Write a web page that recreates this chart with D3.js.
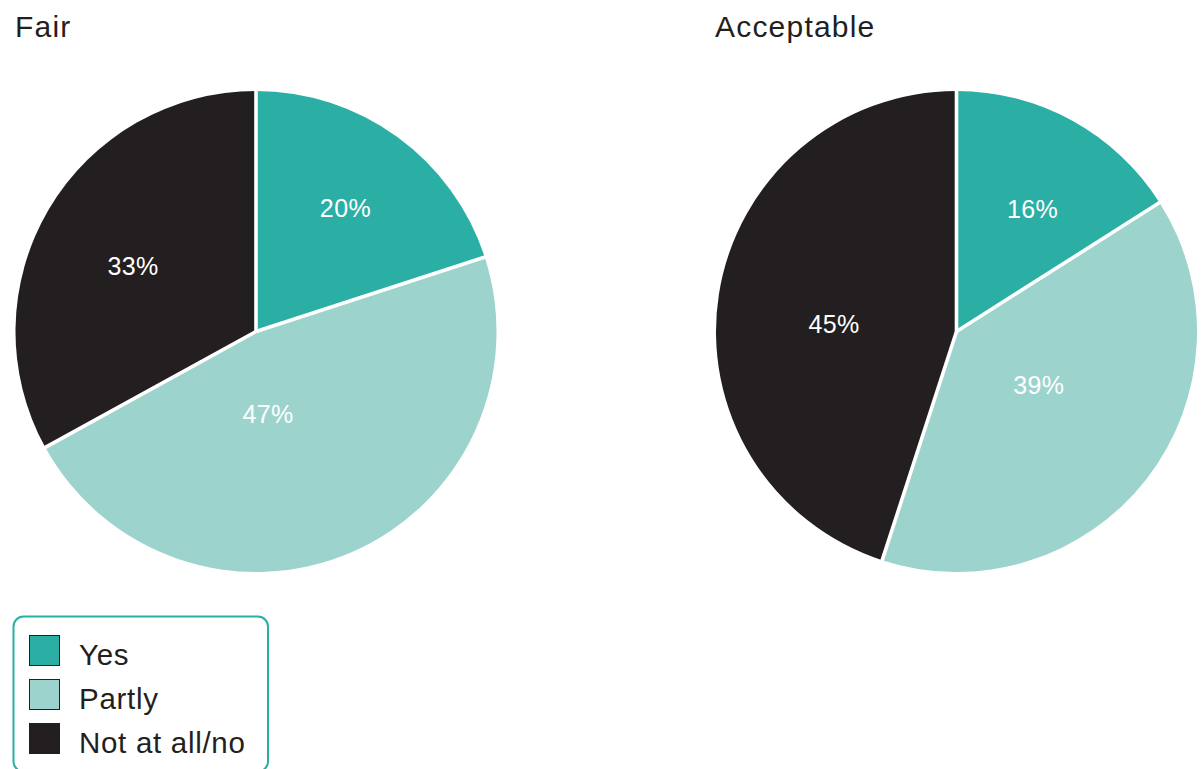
<!DOCTYPE html>
<html>
<head>
<meta charset="utf-8">
<script src="https://cdn.jsdelivr.net/npm/d3@7"></script>
<style>
  html, body { margin: 0; padding: 0; background: #ffffff; }
  svg { display: block; }
  text { font-family: "Liberation Sans", Arial, Helvetica, sans-serif; }
</style>
</head>
<body>
<svg id="chart" width="1204" height="769"></svg>
<script>
// Response categories and their shares (%) for each question
const categories = ["Yes", "Partly", "Not at all/no"];
const chartTitles = ["Fair", "Acceptable"];
const fairValues = [20, 47, 33];
const acceptableValues = [16, 39, 45];

const colors = ["#2bafa5", "#9dd3cd", "#231f20"];
const textDark = "#231f20";

// Label placement per slice: shift (degrees) from the slice's mid-angle and radius fraction
const labelPlacement = [
  [{ shift: 0, r: 0.633 }, { shift: 15, r: 0.345 }, { shift: -2.4, r: 0.58 }],
  [{ shift: 3, r: 0.6 }, { shift: -5, r: 0.407 }, { shift: -5.3, r: 0.51 }]
];

const svg = d3.select("#chart");
const W = 1204, H = 769;
svg.append("rect").attr("width", W).attr("height", H).attr("fill", "#fff");

const radius = 240.5;
const centers = [{ x: 256, y: 331.5 }, { x: 956.5, y: 331.5 }];
const titleX = [15, 715];
const datasets = [fairValues, acceptableValues];

const color = d3.scaleOrdinal().domain(categories).range(colors);

const pie = d3.pie().sort(null).value(d => d.value).startAngle(0).endAngle(2 * Math.PI);
const arc = d3.arc().innerRadius(0).outerRadius(radius);

datasets.forEach((vals, ci) => {
  const data = categories.map((c, i) => ({ category: c, value: vals[i] }));
  const g = svg.append("g").attr("transform", `translate(${centers[ci].x},${centers[ci].y})`);

  const arcs = pie(data);

  g.selectAll("path.slice")
    .data(arcs)
    .join("path")
    .attr("class", "slice")
    .attr("d", arc)
    .attr("fill", d => color(d.data.category));

  // white separators between slices (radial edges only)
  g.selectAll("line.sep")
    .data(arcs)
    .join("line")
    .attr("class", "sep")
    .attr("x1", 0).attr("y1", 0)
    .attr("x2", d => Math.sin(d.startAngle) * (radius + 2))
    .attr("y2", d => -Math.cos(d.startAngle) * (radius + 2))
    .attr("stroke", "#fff")
    .attr("stroke-width", 3.6)
    .attr("stroke-linecap", "butt");

  // percentage labels
  g.selectAll("text.pct")
    .data(arcs)
    .join("text")
    .attr("class", "pct")
    .attr("transform", (d, i) => {
      const p = labelPlacement[ci][i];
      const a = (d.startAngle + d.endAngle) / 2 + p.shift * Math.PI / 180;
      const r = radius * p.r;
      return `translate(${Math.sin(a) * r},${-Math.cos(a) * r})`;
    })
    .attr("text-anchor", "middle")
    .attr("dy", "0.36em")
    .attr("fill", "#fff")
    .attr("font-size", 25)
    .attr("letter-spacing", 0.4)
    .text(d => d.data.value + "%");

  svg.append("text")
    .attr("x", titleX[ci])
    .attr("y", 37)
    .attr("fill", textDark)
    .attr("font-size", 30)
    .attr("letter-spacing", 1.2)
    .text(chartTitles[ci]);
});

// Legend
const legend = svg.append("g");
legend.append("rect")
  .attr("x", 13.5).attr("y", 616.5)
  .attr("width", 254.5).attr("height", 155)
  .attr("rx", 10).attr("ry", 10)
  .attr("fill", "#fff")
  .attr("stroke", "#2bafa5")
  .attr("stroke-width", 2);

const legendY = d3.scalePoint().domain(categories).range([635, 723]);

const items = legend.selectAll("g.item")
  .data(categories)
  .join("g")
  .attr("class", "item")
  .attr("transform", d => `translate(0,${legendY(d)})`);

items.append("rect")
  .attr("x", 29.5).attr("y", 0.5)
  .attr("width", 30).attr("height", 30)
  .attr("fill", d => color(d))
  .attr("stroke", textDark)
  .attr("stroke-width", 1);

items.append("text")
  .attr("x", 79)
  .attr("y", 29.5)
  .attr("fill", textDark)
  .attr("font-size", 29.5)
  .attr("letter-spacing", 0.7)
  .text(d => d);
</script>
</body>
</html>
